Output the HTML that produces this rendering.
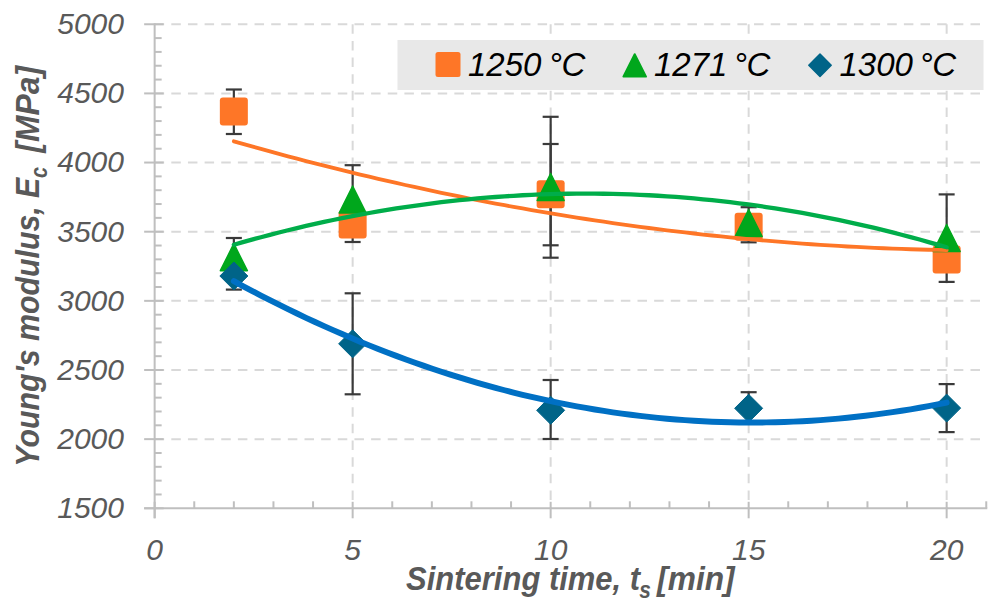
<!DOCTYPE html>
<html><head><meta charset="utf-8"><style>
html,body{margin:0;padding:0;background:#fff;width:1000px;height:606px;overflow:hidden}
svg{display:block}
</style></head><body>
<svg width="1000" height="606" viewBox="0 0 1000 606">
<rect width="1000" height="606" fill="#fff"/>
<g stroke="#d9d9d9" stroke-width="2" stroke-dasharray="9.5 7.15"><line x1="154.65" y1="439.15" x2="986.25" y2="439.15"/><line x1="154.65" y1="370.00" x2="986.25" y2="370.00"/><line x1="154.65" y1="300.85" x2="986.25" y2="300.85"/><line x1="154.65" y1="231.70" x2="986.25" y2="231.70"/><line x1="154.65" y1="162.55" x2="986.25" y2="162.55"/><line x1="154.65" y1="93.40" x2="986.25" y2="93.40"/><line x1="154.65" y1="24.25" x2="986.25" y2="24.25"/><line x1="352.65" y1="24.25" x2="352.65" y2="508.30"/><line x1="550.65" y1="24.25" x2="550.65" y2="508.30"/><line x1="748.65" y1="24.25" x2="748.65" y2="508.30"/><line x1="946.65" y1="24.25" x2="946.65" y2="508.30"/></g>
<g stroke="#bfbfbf" stroke-width="2"><line x1="154.65" y1="23.25" x2="154.65" y2="518.30"/><line x1="144.15" y1="508.30" x2="987.25" y2="508.30"/><line x1="144.15" y1="508.30" x2="163.65" y2="508.30"/><line x1="154.65" y1="494.47" x2="161.65" y2="494.47"/><line x1="154.65" y1="480.64" x2="161.65" y2="480.64"/><line x1="154.65" y1="466.81" x2="161.65" y2="466.81"/><line x1="154.65" y1="452.98" x2="161.65" y2="452.98"/><line x1="144.15" y1="439.15" x2="163.65" y2="439.15"/><line x1="154.65" y1="425.32" x2="161.65" y2="425.32"/><line x1="154.65" y1="411.49" x2="161.65" y2="411.49"/><line x1="154.65" y1="397.66" x2="161.65" y2="397.66"/><line x1="154.65" y1="383.83" x2="161.65" y2="383.83"/><line x1="144.15" y1="370.00" x2="163.65" y2="370.00"/><line x1="154.65" y1="356.17" x2="161.65" y2="356.17"/><line x1="154.65" y1="342.34" x2="161.65" y2="342.34"/><line x1="154.65" y1="328.51" x2="161.65" y2="328.51"/><line x1="154.65" y1="314.68" x2="161.65" y2="314.68"/><line x1="144.15" y1="300.85" x2="163.65" y2="300.85"/><line x1="154.65" y1="287.02" x2="161.65" y2="287.02"/><line x1="154.65" y1="273.19" x2="161.65" y2="273.19"/><line x1="154.65" y1="259.36" x2="161.65" y2="259.36"/><line x1="154.65" y1="245.53" x2="161.65" y2="245.53"/><line x1="144.15" y1="231.70" x2="163.65" y2="231.70"/><line x1="154.65" y1="217.87" x2="161.65" y2="217.87"/><line x1="154.65" y1="204.04" x2="161.65" y2="204.04"/><line x1="154.65" y1="190.21" x2="161.65" y2="190.21"/><line x1="154.65" y1="176.38" x2="161.65" y2="176.38"/><line x1="144.15" y1="162.55" x2="163.65" y2="162.55"/><line x1="154.65" y1="148.72" x2="161.65" y2="148.72"/><line x1="154.65" y1="134.89" x2="161.65" y2="134.89"/><line x1="154.65" y1="121.06" x2="161.65" y2="121.06"/><line x1="154.65" y1="107.23" x2="161.65" y2="107.23"/><line x1="144.15" y1="93.40" x2="163.65" y2="93.40"/><line x1="154.65" y1="79.57" x2="161.65" y2="79.57"/><line x1="154.65" y1="65.74" x2="161.65" y2="65.74"/><line x1="154.65" y1="51.91" x2="161.65" y2="51.91"/><line x1="154.65" y1="38.08" x2="161.65" y2="38.08"/><line x1="144.15" y1="24.25" x2="163.65" y2="24.25"/><line x1="154.65" y1="501.80" x2="154.65" y2="518.30"/><line x1="194.25" y1="501.30" x2="194.25" y2="508.30"/><line x1="233.85" y1="501.30" x2="233.85" y2="508.30"/><line x1="273.45" y1="501.30" x2="273.45" y2="508.30"/><line x1="313.05" y1="501.30" x2="313.05" y2="508.30"/><line x1="352.65" y1="501.80" x2="352.65" y2="518.30"/><line x1="392.25" y1="501.30" x2="392.25" y2="508.30"/><line x1="431.85" y1="501.30" x2="431.85" y2="508.30"/><line x1="471.45" y1="501.30" x2="471.45" y2="508.30"/><line x1="511.05" y1="501.30" x2="511.05" y2="508.30"/><line x1="550.65" y1="501.80" x2="550.65" y2="518.30"/><line x1="590.25" y1="501.30" x2="590.25" y2="508.30"/><line x1="629.85" y1="501.30" x2="629.85" y2="508.30"/><line x1="669.45" y1="501.30" x2="669.45" y2="508.30"/><line x1="709.05" y1="501.30" x2="709.05" y2="508.30"/><line x1="748.65" y1="501.80" x2="748.65" y2="518.30"/><line x1="788.25" y1="501.30" x2="788.25" y2="508.30"/><line x1="827.85" y1="501.30" x2="827.85" y2="508.30"/><line x1="867.45" y1="501.30" x2="867.45" y2="508.30"/><line x1="907.05" y1="501.30" x2="907.05" y2="508.30"/><line x1="946.65" y1="501.80" x2="946.65" y2="518.30"/><line x1="986.25" y1="501.30" x2="986.25" y2="508.30"/></g>
<rect x="397.5" y="40" width="586" height="50" fill="#e8e8e8"/>
<rect x="435.5" y="52" width="25" height="25" rx="2.5" fill="#fe7627"/>
<path d="M623.4,76.6 L634.7,54.2 L646,76.6 Z" fill="#00a71c" stroke="#00a71c" stroke-width="2" stroke-linejoin="round"/>
<path d="M820,54 L831.2,65.2 L820,76.4 L808.8,65.2 Z" fill="#006488" stroke="#006488" stroke-width="1.5" stroke-linejoin="round"/>
<g font-family="Liberation Sans" font-style="italic" font-size="33" fill="#000"><text x="468" y="75.8">1250</text><text x="548.7" y="75.8">°</text><text x="561.6" y="75.8">C</text><text x="654" y="75.8">1271</text><text x="733.7" y="75.8">°</text><text x="746.6" y="75.8">C</text><text x="839.5" y="75.8">1300</text><text x="919.4" y="75.8">°</text><text x="932.3" y="75.8">C</text></g>
<g stroke="#3a3a3a" stroke-width="2.2"><line x1="233.85" y1="89.50" x2="233.85" y2="134.00"/><line x1="225.85" y1="89.50" x2="241.85" y2="89.50"/><line x1="225.85" y1="134.00" x2="241.85" y2="134.00"/><line x1="352.65" y1="206.60" x2="352.65" y2="242.00"/><line x1="344.65" y1="206.60" x2="360.65" y2="206.60"/><line x1="344.65" y1="242.00" x2="360.65" y2="242.00"/><line x1="550.65" y1="144.00" x2="550.65" y2="245.30"/><line x1="542.65" y1="144.00" x2="558.65" y2="144.00"/><line x1="542.65" y1="245.30" x2="558.65" y2="245.30"/><line x1="748.65" y1="207.20" x2="748.65" y2="242.30"/><line x1="740.65" y1="207.20" x2="756.65" y2="207.20"/><line x1="740.65" y1="242.30" x2="756.65" y2="242.30"/><line x1="233.85" y1="238.00" x2="233.85" y2="275.50"/><line x1="225.85" y1="238.00" x2="241.85" y2="238.00"/><line x1="225.85" y1="275.50" x2="241.85" y2="275.50"/><line x1="352.65" y1="165.20" x2="352.65" y2="233.80"/><line x1="344.65" y1="165.20" x2="360.65" y2="165.20"/><line x1="344.65" y1="233.80" x2="360.65" y2="233.80"/><line x1="550.65" y1="116.80" x2="550.65" y2="257.70"/><line x1="542.65" y1="116.80" x2="558.65" y2="116.80"/><line x1="542.65" y1="257.70" x2="558.65" y2="257.70"/><line x1="946.65" y1="194.40" x2="946.65" y2="281.90"/><line x1="938.65" y1="194.40" x2="954.65" y2="194.40"/><line x1="938.65" y1="281.90" x2="954.65" y2="281.90"/><line x1="233.85" y1="262.50" x2="233.85" y2="289.60"/><line x1="225.85" y1="262.50" x2="241.85" y2="262.50"/><line x1="225.85" y1="289.60" x2="241.85" y2="289.60"/><line x1="352.65" y1="293.30" x2="352.65" y2="394.30"/><line x1="344.65" y1="293.30" x2="360.65" y2="293.30"/><line x1="344.65" y1="394.30" x2="360.65" y2="394.30"/><line x1="550.65" y1="380.00" x2="550.65" y2="439.00"/><line x1="542.65" y1="380.00" x2="558.65" y2="380.00"/><line x1="542.65" y1="439.00" x2="558.65" y2="439.00"/><line x1="748.65" y1="392.20" x2="748.65" y2="421.50"/><line x1="740.65" y1="392.20" x2="756.65" y2="392.20"/><line x1="740.65" y1="421.50" x2="756.65" y2="421.50"/><line x1="946.65" y1="384.10" x2="946.65" y2="432.10"/><line x1="938.65" y1="384.10" x2="954.65" y2="384.10"/><line x1="938.65" y1="432.10" x2="954.65" y2="432.10"/></g>
<rect x="219.85" y="97.60" width="28" height="28" rx="3" fill="#fe7627"/>
<rect x="338.65" y="210.60" width="28" height="28" rx="3" fill="#fe7627"/>
<rect x="536.65" y="180.20" width="28" height="28" rx="3" fill="#fe7627"/>
<rect x="734.65" y="212.70" width="28" height="28" rx="3" fill="#fe7627"/>
<rect x="932.65" y="245.40" width="28" height="28" rx="3" fill="#fe7627"/>
<path d="M220.35,270.70 L233.85,243.70 L247.35,270.70 Z" fill="#00a71c" stroke="#00a71c" stroke-width="1.5" stroke-linejoin="round"/>
<path d="M339.15,213.00 L352.65,186.00 L366.15,213.00 Z" fill="#00a71c" stroke="#00a71c" stroke-width="1.5" stroke-linejoin="round"/>
<path d="M537.15,200.50 L550.65,173.50 L564.15,200.50 Z" fill="#00a71c" stroke="#00a71c" stroke-width="1.5" stroke-linejoin="round"/>
<path d="M735.15,236.50 L748.65,209.50 L762.15,236.50 Z" fill="#00a71c" stroke="#00a71c" stroke-width="1.5" stroke-linejoin="round"/>
<path d="M933.15,251.50 L946.65,224.50 L960.15,251.50 Z" fill="#00a71c" stroke="#00a71c" stroke-width="1.5" stroke-linejoin="round"/>
<path d="M233.85,262.00 L247.85,276.00 L233.85,290.00 L219.85,276.00 Z" fill="#006488" stroke="#006488" stroke-width="1" stroke-linejoin="round"/>
<path d="M352.65,329.80 L366.65,343.80 L352.65,357.80 L338.65,343.80 Z" fill="#006488" stroke="#006488" stroke-width="1" stroke-linejoin="round"/>
<path d="M550.65,396.30 L564.65,410.30 L550.65,424.30 L536.65,410.30 Z" fill="#006488" stroke="#006488" stroke-width="1" stroke-linejoin="round"/>
<path d="M748.65,394.30 L762.65,408.30 L748.65,422.30 L734.65,408.30 Z" fill="#006488" stroke="#006488" stroke-width="1" stroke-linejoin="round"/>
<path d="M946.65,394.10 L960.65,408.10 L946.65,422.10 L932.65,408.10 Z" fill="#006488" stroke="#006488" stroke-width="1" stroke-linejoin="round"/>
<path d="M233.85,141.30 L242.87,143.87 L251.90,146.42 L260.92,148.93 L269.94,151.42 L278.96,153.87 L287.99,156.29 L297.01,158.68 L306.03,161.05 L315.06,163.38 L324.08,165.68 L333.10,167.94 L342.12,170.18 L351.15,172.39 L360.17,174.57 L369.19,176.71 L378.21,178.83 L387.24,180.91 L396.26,182.97 L405.28,184.99 L414.31,186.98 L423.33,188.94 L432.35,190.87 L441.37,192.77 L450.40,194.64 L459.42,196.48 L468.44,198.29 L477.47,200.07 L486.49,201.81 L495.51,203.53 L504.53,205.22 L513.56,206.87 L522.58,208.49 L531.60,210.09 L540.62,211.65 L549.65,213.18 L558.67,214.68 L567.69,216.15 L576.72,217.59 L585.74,219.00 L594.76,220.38 L603.78,221.72 L612.81,223.04 L621.83,224.33 L630.85,225.58 L639.88,226.81 L648.90,228.00 L657.92,229.16 L666.94,230.29 L675.97,231.40 L684.99,232.47 L694.01,233.51 L703.03,234.52 L712.06,235.49 L721.08,236.44 L730.10,237.36 L739.13,238.25 L748.15,239.10 L757.17,239.93 L766.19,240.72 L775.22,241.48 L784.24,242.22 L793.26,242.92 L802.29,243.59 L811.31,244.23 L820.33,244.84 L829.35,245.42 L838.38,245.97 L847.40,246.48 L856.42,246.97 L865.44,247.43 L874.47,247.85 L883.49,248.25 L892.51,248.61 L901.54,248.95 L910.56,249.25 L919.58,249.52 L928.60,249.76 L937.63,249.97 L946.65,250.15" fill="none" stroke="#fe7627" stroke-width="3.8" stroke-linecap="round"/>
<path d="M233.85,244.77 L242.87,242.18 L251.90,239.66 L260.92,237.21 L269.94,234.82 L278.96,232.50 L287.99,230.25 L297.01,228.06 L306.03,225.94 L315.06,223.89 L324.08,221.91 L333.10,219.99 L342.12,218.15 L351.15,216.36 L360.17,214.65 L369.19,213.00 L378.21,211.42 L387.24,209.91 L396.26,208.46 L405.28,207.08 L414.31,205.77 L423.33,204.53 L432.35,203.35 L441.37,202.24 L450.40,201.20 L459.42,200.22 L468.44,199.31 L477.47,198.47 L486.49,197.70 L495.51,196.99 L504.53,196.35 L513.56,195.78 L522.58,195.27 L531.60,194.83 L540.62,194.46 L549.65,194.16 L558.67,193.92 L567.69,193.75 L576.72,193.65 L585.74,193.62 L594.76,193.65 L603.78,193.75 L612.81,193.91 L621.83,194.15 L630.85,194.45 L639.88,194.81 L648.90,195.25 L657.92,195.75 L666.94,196.32 L675.97,196.96 L684.99,197.66 L694.01,198.43 L703.03,199.27 L712.06,200.18 L721.08,201.15 L730.10,202.19 L739.13,203.29 L748.15,204.47 L757.17,205.71 L766.19,207.02 L775.22,208.39 L784.24,209.84 L793.26,211.35 L802.29,212.92 L811.31,214.57 L820.33,216.28 L829.35,218.06 L838.38,219.90 L847.40,221.82 L856.42,223.80 L865.44,225.84 L874.47,227.96 L883.49,230.14 L892.51,232.39 L901.54,234.71 L910.56,237.09 L919.58,239.54 L928.60,242.06 L937.63,244.64 L946.65,247.29" fill="none" stroke="#00ad4a" stroke-width="4.3" stroke-linecap="round"/>
<path d="M233.85,281.17 L242.87,286.05 L251.90,290.84 L260.92,295.55 L269.94,300.17 L278.96,304.71 L287.99,309.16 L297.01,313.52 L306.03,317.80 L315.06,322.00 L324.08,326.10 L333.10,330.13 L342.12,334.06 L351.15,337.91 L360.17,341.68 L369.19,345.36 L378.21,348.95 L387.24,352.46 L396.26,355.88 L405.28,359.22 L414.31,362.47 L423.33,365.64 L432.35,368.72 L441.37,371.71 L450.40,374.62 L459.42,377.44 L468.44,380.18 L477.47,382.83 L486.49,385.39 L495.51,387.87 L504.53,390.27 L513.56,392.58 L522.58,394.80 L531.60,396.94 L540.62,398.99 L549.65,400.95 L558.67,402.83 L567.69,404.63 L576.72,406.34 L585.74,407.96 L594.76,409.50 L603.78,410.95 L612.81,412.31 L621.83,413.59 L630.85,414.79 L639.88,415.90 L648.90,416.92 L657.92,417.86 L666.94,418.71 L675.97,419.47 L684.99,420.15 L694.01,420.75 L703.03,421.26 L712.06,421.68 L721.08,422.02 L730.10,422.27 L739.13,422.43 L748.15,422.51 L757.17,422.51 L766.19,422.42 L775.22,422.24 L784.24,421.98 L793.26,421.63 L802.29,421.20 L811.31,420.68 L820.33,420.07 L829.35,419.38 L838.38,418.60 L847.40,417.74 L856.42,416.79 L865.44,415.76 L874.47,414.64 L883.49,413.44 L892.51,412.15 L901.54,410.77 L910.56,409.31 L919.58,407.76 L928.60,406.12 L937.63,404.41 L946.65,402.60" fill="none" stroke="#0070c4" stroke-width="5.9" stroke-linecap="round"/>
<g font-family="Liberation Sans" font-style="italic" font-size="30" fill="#595959"><text x="124" y="518.10" text-anchor="end">1500</text><text x="124" y="448.95" text-anchor="end">2000</text><text x="124" y="379.80" text-anchor="end">2500</text><text x="124" y="310.65" text-anchor="end">3000</text><text x="124" y="241.50" text-anchor="end">3500</text><text x="124" y="172.35" text-anchor="end">4000</text><text x="124" y="103.20" text-anchor="end">4500</text><text x="124" y="34.05" text-anchor="end">5000</text><text x="154.65" y="560" text-anchor="middle">0</text><text x="352.65" y="560" text-anchor="middle">5</text><text x="550.65" y="560" text-anchor="middle">10</text><text x="748.65" y="560" text-anchor="middle">15</text><text x="946.65" y="560" text-anchor="middle">20</text></g>
<text transform="translate(406.1,590) scale(0.911,1)" font-family="Liberation Sans" font-style="italic" font-weight="bold" fill="#595959" font-size="34">Sintering time, t</text>
<text transform="translate(639.3,598) scale(0.87,1)" font-family="Liberation Sans" font-style="italic" font-weight="bold" fill="#595959" font-size="24">s</text>
<text transform="translate(657.1,590) scale(0.934,1)" font-family="Liberation Sans" font-style="italic" font-weight="bold" fill="#595959" font-size="34">[min]</text>
<text transform="translate(38.8,466.7) rotate(-90) scale(0.892,1)" font-family="Liberation Sans" font-style="italic" font-weight="bold" fill="#595959" font-size="34">Young's modulus, E</text>
<text transform="translate(47,178) rotate(-90) scale(0.83,1)" font-family="Liberation Sans" font-style="italic" font-weight="bold" fill="#595959" font-size="24">c</text>
<text transform="translate(38.8,152.7) rotate(-90) scale(0.937,1)" font-family="Liberation Sans" font-style="italic" font-weight="bold" fill="#595959" font-size="34">[MPa]</text>
</svg>
</body></html>
